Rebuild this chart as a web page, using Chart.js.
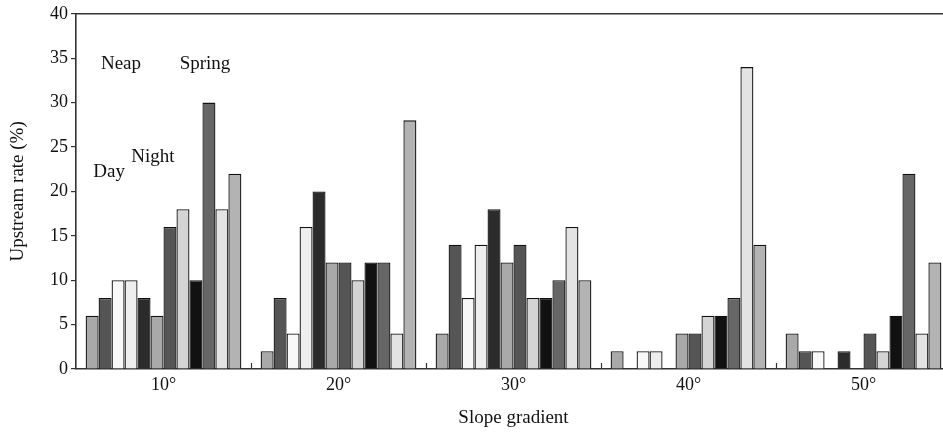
<!DOCTYPE html>
<html>
<head>
<meta charset="utf-8">
<script src="https://cdn.jsdelivr.net/npm/chart.js@4.4.1/dist/chart.umd.min.js"></script>
<style>
  html, body { margin: 0; padding: 0; background: #fff; overflow: hidden; }
  #wrap { width: 960px; height: 433px; }
</style>
</head>
<body>
<div id="wrap"><canvas id="chart" width="960" height="433"></canvas></div>
<script>
// Slope gradient groups
const slopeLabels = ['10°', '20°', '30°', '40°', '50°'];

// Upstream rate (%) for each of the 12 bars in a group
const bar1 = [6, 2, 4, 2, 4];
const bar2 = [8, 8, 14, 0, 2];
const bar3 = [10, 4, 8, 2, 2];
const bar4 = [10, 16, 14, 2, 0];
const bar5 = [8, 20, 18, 0, 2];
const bar6 = [6, 12, 12, 4, 0];
const bar7 = [16, 12, 14, 4, 4];
const bar8 = [18, 10, 8, 6, 2];
const bar9 = [10, 12, 8, 6, 6];
const bar10 = [30, 12, 10, 8, 22];
const bar11 = [18, 4, 16, 34, 4];
const bar12 = [22, 28, 10, 14, 12];

const barFills = ['#a9a9a9', '#555555', '#f8f8f8', '#eeeeee', '#2b2b2b', '#a9a9a9',
                  '#555555', '#d4d4d4', '#111111', '#666666', '#e3e3e3', '#b3b3b3'];

// text notes inside the plot (x in category units, y in %)
const notes = [
    { text: 'Neap', x: -0.243, y: 34.4 },
    { text: 'Spring', x: 0.237, y: 34.4 },
    { text: 'Night', x: -0.06, y: 23.9 },
    { text: 'Day', x: -0.311, y: 22.2 }
];

const FONT = "'Liberation Serif', 'Times New Roman', serif";
const INK = '#111';

const allBars = [bar1, bar2, bar3, bar4, bar5, bar6, bar7, bar8, bar9, bar10, bar11, bar12];

const datasets = allBars.map((values, i) => ({
    label: 'bar ' + (i + 1),
    data: values,
    backgroundColor: barFills[i],
    borderColor: INK,
    borderWidth: 1.3,
    borderSkipped: 'start',
    barPercentage: 1,
    categoryPercentage: 0.89
}));

// top frame line, small group dividers and the text notes
const extrasPlugin = {
    id: 'extras',
    afterDraw(chart) {
        const ctx = chart.ctx;
        const area = chart.chartArea;
        const x = chart.scales.x;
        const y = chart.scales.y;
        ctx.save();
        ctx.strokeStyle = '#333';
        ctx.lineWidth = 1.6;
        ctx.beginPath();
        ctx.moveTo(area.left, area.top);
        ctx.lineTo(area.right + 20, area.top);
        ctx.stroke();

        ctx.lineWidth = 1.2;
        for (let i = 0; i < slopeLabels.length - 1; i++) {
            const px = Math.round((x.getPixelForValue(i) + x.getPixelForValue(i + 1)) / 2) + 0.5;
            ctx.beginPath();
            ctx.moveTo(px, area.bottom);
            ctx.lineTo(px, area.bottom - 6);
            ctx.stroke();
        }

        ctx.fillStyle = INK;
        ctx.font = '19px ' + FONT;
        ctx.textAlign = 'center';
        ctx.textBaseline = 'middle';
        notes.forEach(n => {
            ctx.fillText(n.text, x.getPixelForValue(n.x), y.getPixelForValue(n.y));
        });
        ctx.restore();
    }
};

new Chart(document.getElementById('chart'), {
    type: 'bar',
    data: { labels: slopeLabels, datasets: datasets },
    options: {
        responsive: false,
        animation: false,
        layout: { padding: { top: 13, right: 9, bottom: 0, left: 0 } },
        plugins: { legend: { display: false }, tooltip: { enabled: false } },
        scales: {
            x: {
                grid: { display: false, drawTicks: false, tickLength: 0 },
                border: { display: true, color: '#333', width: 1.6 },
                ticks: { color: INK, font: { family: FONT, size: 18 }, padding: 5 },
                title: {
                    display: true,
                    text: 'Slope gradient',
                    color: INK,
                    font: { family: FONT, size: 19 },
                    padding: { top: 0, bottom: 4 }
                },
                afterFit(scale) { scale.height = 64; }
            },
            y: {
                min: 0,
                max: 40,
                ticks: { stepSize: 5, color: INK, font: { family: FONT, size: 18 }, padding: 3 },
                grid: { drawOnChartArea: false, drawTicks: true, tickLength: 5, color: '#333', lineWidth: 1.2 },
                border: { display: true, color: '#333', width: 1.6 },
                title: {
                    display: true,
                    text: 'Upstream rate (%)',
                    color: INK,
                    font: { family: FONT, size: 19 },
                    padding: { top: 7, bottom: 0 }
                },
                afterFit(scale) { scale.width = 76; }
            }
        }
    },
    plugins: [extrasPlugin]
});
</script>
</body>
</html>
